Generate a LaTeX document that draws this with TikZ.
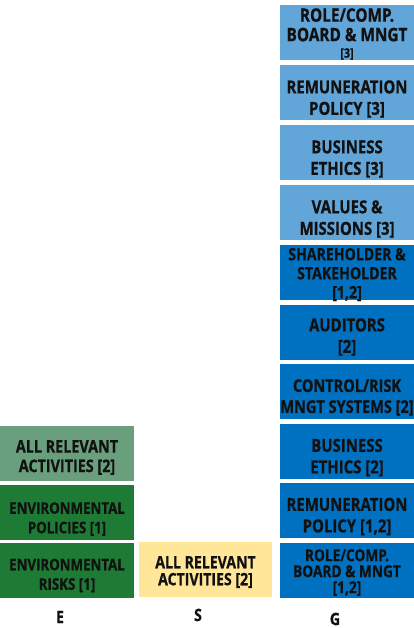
\documentclass[tikz,border=0pt]{standalone}
\usepackage{fontspec}
\setmainfont{Open Sans}
\newfontfamily\sqfont{Open Sans}[FakeStretch=0.83, BoldFeatures={FakeBold=0.7}]
\newcommand{\fs}[2]{\sqfont\bfseries\fontsize{#1}{#2}\selectfont}
\definecolor{lblue}{HTML}{62A5D8}
\definecolor{dblue}{HTML}{0070C0}
\definecolor{lgreen}{HTML}{6A9F7D}
\definecolor{dgreen}{HTML}{1E7B36}
\definecolor{lyellow}{HTML}{FFE699}
\definecolor{txt}{HTML}{111111}
\tikzset{
  cell/.style={rectangle, inner sep=0pt, minimum width=134pt, minimum height=55pt},
  gl/.style={cell, fill=lblue},
  gd/.style={cell, fill=dblue},
  lbl/.style={inner sep=0pt, align=center, text=txt, font=\fs{18}{21.5}},
  axis/.style={text=txt, font=\fs{17}{19}, inner sep=0pt}
}
\begin{document}
\begin{tikzpicture}[x=1pt,y=-1pt]
\useasboundingbox[fill=white] (0,0) rectangle (414,628);
% G column boxes
\node[gl] (g10) at (347,32.5) {};
\node[gl] (g9) at (347,92.5) {};
\node[gl] (g8) at (347,152.5) {};
\node[gl] (g7) at (347,212.5) {};
\node[gd] (g6) at (347,272.5) {};
\node[gd] (g5) at (347,332) {};
\node[gd] (g4) at (347,391.5) {};
\node[gd] (g3) at (347,451) {};
\node[gd] (g2) at (347,510) {};
\node[gd] (g1) at (347,570.5) {};
% G texts
\node[lbl, font=\fs{18.5}{19.5}] (t10) at ([yshift=-1.5pt]g10.center) {ROLE/COMP.\\BOARD \& MNGT\\[-3pt]{\fontsize{13}{13}\selectfont [3]}};
\node[lbl] (t9) at ([yshift=-6.5pt]g9.center) {REMUNERATION\\POLICY [3]};
\node[lbl] (t8) at ([yshift=-6.5pt]g8.center) {BUSINESS\\ETHICS [3]};
\node[lbl] (t7) at ([yshift=-6.5pt]g7.center) {VALUES \&\\MISSIONS [3]};
\node[lbl, font=\fs{17}{19}] (t6) at ([yshift=-2pt]g6.center) {SHAREHOLDER \&\\STAKEHOLDER\\{[1,2]}};
\node[lbl] (t5) at ([yshift=-5pt]g5.center) {AUDITORS\\{[2]}};
\node[lbl, font=\fs{17.5}{21}] (t4) at ([yshift=-6pt]g4.center) {CONTROL/RISK\\MNGT SYSTEMS [2]};
\node[lbl] (t3) at ([yshift=-6.5pt]g3.center) {BUSINESS\\ETHICS [2]};
\node[lbl] (t2) at ([yshift=-6.5pt]g2.center) {REMUNERATION\\POLICY [1,2]};
\node[lbl, font=\fs{16.5}{16}] (t1) at ([yshift=-2pt]g1.center) {ROLE/COMP.\\BOARD \& MNGT\\{[1,2]}};
% E column
\node[cell, fill=lgreen] (e3) at (67,453.5) {};
\node[cell, fill=dgreen] (e2) at (67,512) {};
\node[cell, fill=dgreen] (e1) at (67,570) {};
\node[lbl, font=\fs{17.3}{19.5}] (te3) at ([yshift=-4pt]e3.center) {ALL RELEVANT\\ACTIVITIES [2]};
\node[lbl, font=\fs{16}{19.5}] (te2) at ([yshift=-7pt]e2.center) {ENVIRONMENTAL\\POLICIES [1]};
\node[lbl, font=\fs{16}{19.5}] (te1) at ([yshift=-5.5pt]e1.center) {ENVIRONMENTAL\\RISKS [1]};
% S column
\node[cell, fill=lyellow, minimum width=133pt] (s1) at (205.5,569.5) {};
\node[lbl, font=\fs{17}{17}] (ts1) at ([yshift=-2.5pt]s1.center) {ALL RELEVANT\\ACTIVITIES [2]};
% axis labels
\node[axis] (le) at (60,617) {E};
\node[axis] (ls) at (198,615) {S};
\node[axis] (lg) at (335,619) {G};
\end{tikzpicture}
\end{document}
